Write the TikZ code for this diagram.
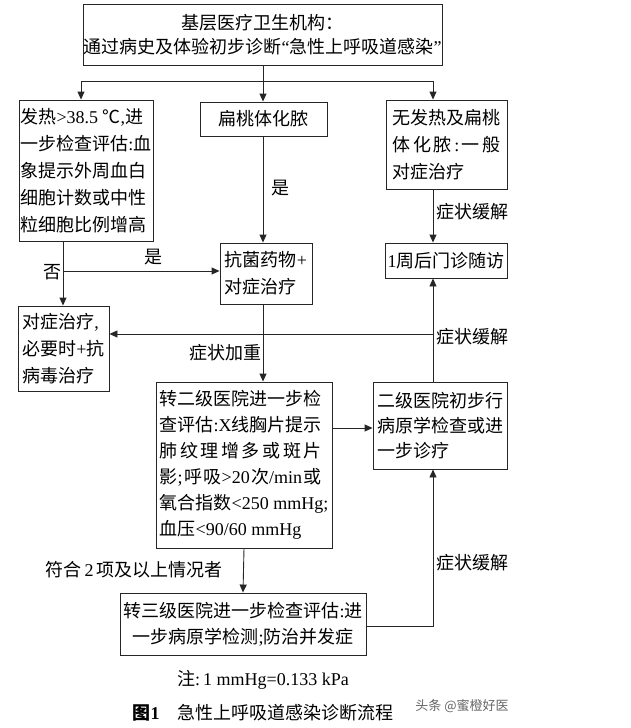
\documentclass[tikz,border=0pt]{standalone}
\usepackage{fontspec}
\setmainfont{Noto Sans CJK SC}
\newfontfamily\enfont{Liberation Serif}
\newcommand\en[1]{{\enfont #1}}
\usetikzlibrary{arrows.meta}
\tikzset{
  box/.style={draw=black!85, line width=0.9pt, inner xsep=0pt, inner ysep=0pt, align=left,
    font=\fontsize{18}{27}\selectfont},
  lbl/.style={font=\fontsize{18}{27}\selectfont, inner sep=0pt},
  arr/.style={draw=black!85, line width=0.9pt, -{Triangle[length=8pt,width=7pt]}},
  ln/.style={draw=black!85, line width=0.9pt}
}
\begin{document}
\begin{tikzpicture}[x=1pt,y=-1pt]
\useasboundingbox (0,0) rectangle (630,728);
% boxes
\node[box, align=center, minimum width=359pt, minimum height=61pt, font=\fontsize{18}{24}\selectfont] (top) at (262.5,34.5)
  {基层医疗卫生机构：\\通过病史及体验初步诊断\en{“}急性上呼吸道感染\en{”}};
\node[box, minimum width=134pt, minimum height=141pt] (L1) at (86,170.5)
  {发热\en{>38.5 }℃\en{,}进\\一步检查评估\en{:}血\\象提示外周血白\\细胞计数或中性\\粒细胞比例增高};
\node[box, minimum width=127pt, minimum height=34pt] (M1) at (263.5,119) {扁桃体化脓};
\node[box, minimum width=121pt, minimum height=89pt] (R1) at (446.5,144.5)
  {无发热及扁桃\\\makebox[108pt][s]{体\hfill 化\hfill 脓\hfill\en{:}\hfill 一\hfill 般}\\对症治疗};
\node[box, minimum width=92pt, minimum height=61pt] (M2) at (266,273.5) {抗菌药物\en{+}\\对症治疗};
\node[box, minimum width=122pt, minimum height=35pt] (R2) at (446,260.5) {\en{1}周后门诊随访};
\node[box, minimum width=91pt, minimum height=85pt] (L2) at (63.5,348.5) {对症治疗\en{,}\\必要时\en{+}抗\\病毒治疗};
\node[box, minimum width=176pt, minimum height=166pt, font=\fontsize{18}{26}\selectfont] (M3) at (244,465)
  {\makebox[162pt][s]{转\hfill 二\hfill 级\hfill 医\hfill 院\hfill 进\hfill 一\hfill 步\hfill 检}\\
   \makebox[162pt][s]{查\hfill 评\hfill 估\en{:X}\hfill 线\hfill 胸\hfill 片\hfill 提\hfill 示}\\
   \makebox[162pt][s]{肺\hfill 纹\hfill 理\hfill 增\hfill 多\hfill 或\hfill 斑\hfill 片}\\
   \makebox[162pt][s]{影\en{;}\hfill 呼\hfill 吸\en{>20}\hfill 次\en{/min}\hfill 或}\\
   氧合指数\en{<250 mmHg;}\\
   血压\en{<90/60 mmHg}};
\node[box, minimum width=134pt, minimum height=87pt, font=\fontsize{18}{25}\selectfont] (R3) at (440,425.5)
  {二级医院初步行\\病原学检查或进\\一步诊疗};
\node[box, align=center, minimum width=246pt, minimum height=62pt, font=\fontsize{18}{26}\selectfont] (M4) at (243,624)
  {转三级医院进一步检查评估\en{:}进\\一步病原学检测\en{;}防治并发症};
% junction coordinates
\coordinate (j1) at (263,81);
\coordinate (jL) at (81,81);
\coordinate (jR) at (433,81);
\coordinate (jb) at (63,271);
\coordinate (h3) at (0,428);
\coordinate (c4) at (433,626);
\coordinate (c5) at (433,334);
% connectors
\draw[ln] (top.south -| j1) -- (j1);
\draw[ln] (jL) -- (jR);
\draw[arr] (jL) -- (jL |- L1.north);
\draw[arr] (j1) -- (M1.north -| j1);
\draw[arr] (jR) -- (jR |- R1.north);
\draw[arr] (M1.south -| j1) -- (M2.north -| j1);
\draw[arr] (R1.south -| jR) -- (R2.north -| jR);
\draw[arr] (L1.south -| jb) -- (L2.north -| jb);
\draw[arr] (jb) -- (jb -| M2.west);
\draw[arr] (M2.south -| j1) -- (M3.north -| j1);
\draw[arr] (M3.east |- h3) -- (R3.west |- h3);
\draw[arr] (M3.south) -- (M4.north);
\draw[arr] (M4.east |- c4) -- (c4) -- (c4 |- R3.south);
\draw[arr] (R3.north -| jR) -- (R2.south -| jR);
\draw[arr] (c5) -- (c5 -| L2.east);
% labels
\node[lbl] (t1) at (280,188) {是};
\node[lbl] (t2) at (472,212) {症状缓解};
\node[lbl] (t3) at (153,257) {是};
\node[lbl] (t4) at (52,272) {否};
\node[lbl] (t5) at (472,337) {症状缓解};
\node[lbl] (t6) at (225,353) {症状加重};
\node[lbl] (t7) at (472,563) {症状缓解};
\node[lbl] (t8) at (134,570) {符合\en{\,2\,}项及以上情况者};
\node[lbl] (n1) at (263,680) {注\en{:\,1 mmHg=0.133 kPa}};
\node[lbl] (n2) at (263,713) {{\bfseries 图\en{1}}\quad 急性上呼吸道感染诊断流程};
\node[lbl, font=\fontsize{13}{15}\selectfont, text=black!60] (wm) at (462,706) {头条 @蜜橙好医};
\end{tikzpicture}
\end{document}
